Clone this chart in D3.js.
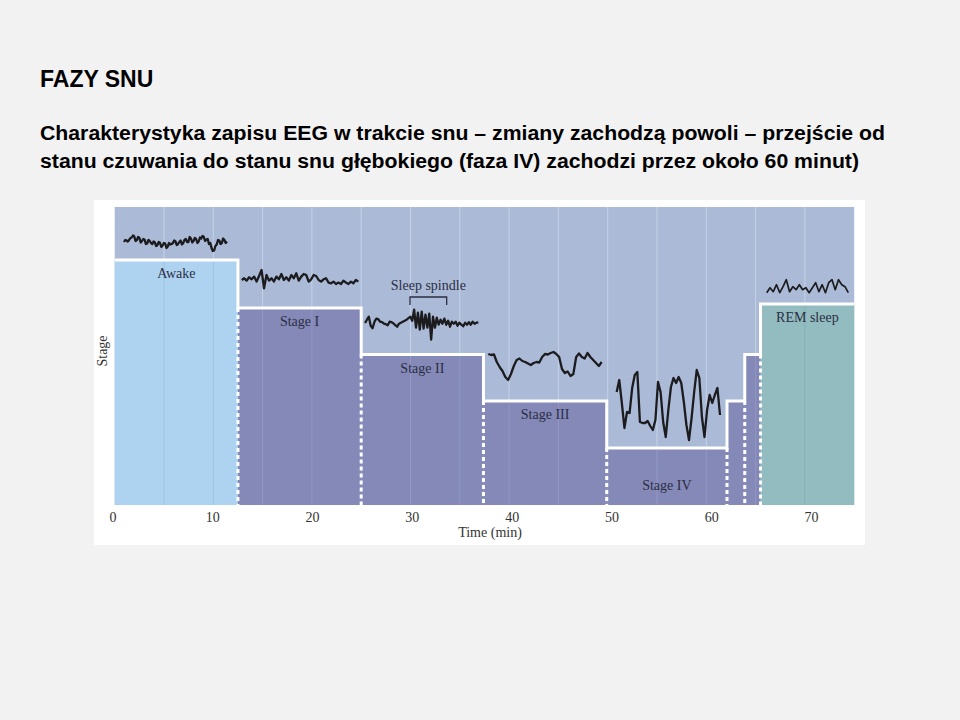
<!DOCTYPE html>
<meta charset="utf-8">
<style>
  body { margin: 0; background: #f2f2f2; }
  svg { display: block; }
</style>
<body>
  <div id="chart"></div>
  <script src="https://d3js.org/d3.v7.min.js"></script>
  <script>
    // hypnogram: minute at which each stage begins
    var stageStart = [0, 12.5, 25, 37.4, 49.9, 62.1, 63.9, 65.5];
    var stageName = ["Awake", "Stage I", "Stage II", "Stage III", "Stage IV", "Stage III", "Stage II", "REM sleep"];
    var endTime = 75;
    // step height of each stage (arbitrary depth units)
    var stageLevel = {
      "Awake": 245,
      "Stage I": 197,
      "Stage II": 150.5,
      "Stage III": 104,
      "Stage IV": 57,
      "REM sleep": 201
    };
    var xTicks = [0, 10, 20, 30, 40, 50, 60, 70];
    var gridTicks = [5, 10, 15, 20, 25, 30, 35, 40, 45, 50, 55, 60, 65, 70];

    // EEG samples drawn above each stage (deflection, depth units)
    var awakeEEG = [0, 2, 1.5, 0.5, 2, 4, 4.5, 6.5, 5.5, 1, 2, 5, 4, -0.5, 1, 3, 2.5, -2, -1.5, 2, 1, -1, -2, 0.5, -0.5, -4, -3, 0, -1, -5, -3.5, -1, -1.5, -6, -4.5, -1, -2.5, -2, -1, 1.5, 0.5, -3, -2, 0, 1.5, -2.5, -1, 2, 3, 0, 0, 5, 3.5, -0.5, 1, 4, 3, -1, 0.5, 4.5, 3.5, 6, 5, 1, 2.5, 3, -2, -1, -6, -9, -8.5, -4, -2.5, 2, 1.5, -2, -1, 3.5, 2, -1, 0.5];
    var stage1EEG = [-0.7, 1, -1.3, 2, 0, 2.7, -2.3, 3.3, 9.3, -9, 4.3, -1.3, 1, -2.3, 2.7, 0, 5.3, -0.7, 2, -1.3, 4.3, 1, 6, -1.3, 2.7, 5.3, 4.3, -2.3, 0, 4.3, 3.3, -0.7, -2.3, 0, 1, -3.3, -4, -2.3, -4.7, -3.3, -4.7, -1.3, -3.3, -4.7, -2.3, -4, -0.7, -2.3];
    var stage2EEG = [1.7, 5, 8, -1, -3.5, 3, 6, 5.5, 3, 2.5, 1, 0.5, -0.5, 3, 2.5, 1.5, -0.5, -2, 1, 2, 3, 4, 5, 6.5, 8, 4, 15, -3, 12, -5, 13, -4, 10, -3, 11, -15, 8, -3, 7, 0, 5, 1, 6, 0, 4, -2, 3, 1, 3, -1, 2, 0, -1.5, 2, 0, 2.5, 0, 3, 1, 2, 2.3];
    var stage3EEG = [6, 5, 5.5, -2, -7, -11, -17, -20, -14, -6, 0, 1.5, -1, -2, -3.5, -5, -3, -2, -2.5, 3, 6, 5.5, 7, 8, 6, 3, -9, -13, -11.5, -16, -14, 3, 6.5, 3, 1.5, 7, 3, 0, -3, -6, -2];
    var stage4EEG = [13, 25, 2, -23, -7, -8, 17, 30, 33, -17, -18, -18, -16, -21, -25, -15, 23, 13, -17, -32, -5, 18, 27, 22, 28, 22, 3, -20, -35, -13, 13, 35, 27, -12, -32, -5, 10, 2, 10, 17, -10];
    var remEEG = [-3, 2, -2, 5, -3, 3, 10, -2, 3, 0, 5, 0, 2, -3, 2, 7, -2, 5, -3, 7, 10, 0, 10, 5, 3, -3];

    var eegData = [awakeEEG, stage1EEG, stage2EEG, stage3EEG, stage4EEG, remEEG];
    var eegStart = [0.94, 12.88, 25.39, 37.89, 50.91, 66.13];
    var eegEnd = [11.39, 24.71, 36.88, 49.39, 61.39, 74.4];
    var eegBase = [263, 225.7, 180.3, 145, 100, 215.3];

    // sleep spindle marker (minutes)
    var spindle = [29.95, 33.67];

    var fills = {
      "Awake": "#aed3f0",
      "REM sleep": "#93bcc0"
    };
    var gridFills = {
      "Awake": "#9ec4e4",
      "REM sleep": "#86afb4"
    };
    var serif = "'Liberation Serif', 'Times New Roman', serif";

    var svg = d3.select("#chart")
      .append("svg")
      .attr("width", 960)
      .attr("height", 720);

    // slide text
    svg.append("text")
      .attr("x", 40)
      .attr("y", 86.5)
      .style("font-family", "'Liberation Sans', Arial, sans-serif")
      .style("font-weight", "bold")
      .style("font-size", "23px")
      .text("FAZY SNU");

    var subtitle = ["Charakterystyka zapisu EEG w trakcie snu \u2013 zmiany zachodzą powoli \u2013 przejście od",
      "stanu czuwania do stanu snu głębokiego (faza IV) zachodzi przez około 60 minut)"];
    var subWidth = [845, 819];
    svg.selectAll(".sub")
      .data(subtitle)
      .enter().append("text")
      .attr("class", "sub")
      .attr("x", 40)
      .attr("y", function(d, i) { return 140 + i * 27.5; })
      .attr("textLength", function(d, i) { return subWidth[i]; })
      .attr("lengthAdjust", "spacingAndGlyphs")
      .style("font-family", "'Liberation Sans', Arial, sans-serif")
      .style("font-weight", "bold")
      .style("font-size", "19.5px")
      .text(function(d) { return d; });

    // white figure panel
    svg.append("rect")
      .attr("x", 94)
      .attr("y", 200)
      .attr("width", 771)
      .attr("height", 345)
      .style("fill", "#ffffff");

    var x = d3.scaleLinear()
      .domain([0, endTime])
      .range([114.7, 854.2]);

    // tick labels of the figure sit on a slightly wider spacing
    var xLabel = d3.scaleLinear()
      .domain([0, 70])
      .range([112.5, 811]);

    var y = d3.scaleLinear()
      .domain([0, 298])
      .range([505, 207]);

    var stages = stageStart.map(function(s, i) {
      return {
        name: stageName[i],
        start: s,
        end: i < stageStart.length - 1 ? stageStart[i + 1] : endTime,
        level: stageLevel[stageName[i]]
      };
    });

    // plot background
    svg.append("rect")
      .attr("x", x(0))
      .attr("y", y(298))
      .attr("width", x(endTime) - x(0))
      .attr("height", y(0) - y(298))
      .style("fill", "#abbbd7");

    svg.selectAll(".bggrid")
      .data(gridTicks)
      .enter().append("line")
      .attr("class", "bggrid")
      .attr("x1", function(d) { return x(d); })
      .attr("x2", function(d) { return x(d); })
      .attr("y1", y(298))
      .attr("y2", y(0))
      .style("stroke", "#c6d1e6")
      .style("stroke-width", 1);

    // stage bars
    svg.selectAll(".bar")
      .data(stages)
      .enter().append("rect")
      .attr("class", "bar")
      .attr("x", function(d) { return x(d.start); })
      .attr("y", function(d) { return y(d.level); })
      .attr("width", function(d) { return x(d.end) - x(d.start); })
      .attr("height", function(d) { return y(0) - y(d.level); })
      .style("fill", function(d) { return fills[d.name] || "#8489b8"; });

    stages.forEach(function(s) {
      svg.selectAll(null)
        .data(gridTicks.filter(function(t) { return t > s.start && t < s.end; }))
        .enter().append("line")
        .attr("x1", function(d) { return x(d); })
        .attr("x2", function(d) { return x(d); })
        .attr("y1", y(s.level) + 1.5)
        .attr("y2", y(0))
        .style("stroke", gridFills[s.name] || "#9298c4")
        .style("stroke-width", 1);
    });

    // white step outline
    var stepPts = stages.map(function(d) { return [d.start, d.level]; });
    stepPts.push([endTime, stages[stages.length - 1].level]);
    svg.append("path")
      .attr("d", d3.line()
        .x(function(d) { return x(d[0]); })
        .y(function(d) { return y(d[1]); })
        .curve(d3.curveStepAfter)(stepPts))
      .style("fill", "none")
      .style("stroke", "#ffffff")
      .style("stroke-width", 3);

    // dashed separators below each step
    svg.selectAll(".sep")
      .data(stages.slice(1))
      .enter().append("line")
      .attr("class", "sep")
      .attr("x1", function(d) { return x(d.start); })
      .attr("x2", function(d) { return x(d.start); })
      .attr("y1", function(d, i) { return y(Math.min(d.level, stages[i].level)); })
      .attr("y2", y(0))
      .style("stroke", "#ffffff")
      .style("stroke-width", 3)
      .style("stroke-dasharray", "4,3");

    // EEG traces
    eegData.forEach(function(vals, k) {
      var step = (eegEnd[k] - eegStart[k]) / (vals.length - 1);
      svg.append("path")
        .attr("d", d3.line()
          .x(function(d, i) { return x(eegStart[k] + i * step); })
          .y(function(d) { return y(eegBase[k] + d); })(vals))
        .style("fill", "none")
        .style("stroke", "#1c1c1f")
        .style("stroke-width", k === 5 ? 1.7 : 2.3)
        .style("stroke-linejoin", "round");
    });

    // stage labels
    svg.selectAll(".slabel")
      .data(stages.filter(function(d) { return d.end - d.start > 5; }))
      .enter().append("text")
      .attr("class", "slabel")
      .attr("x", function(d) { return (x(d.start) + x(d.end)) / 2; })
      .attr("y", function(d) {
        return d.name === "Stage IV" ? y(0) - 15 : y(d.level) + 18;
      })
      .attr("text-anchor", "middle")
      .style("font-family", serif)
      .style("font-size", "14px")
      .style("fill", "#2c2e44")
      .text(function(d) { return d.name; });

    // sleep spindle bracket
    svg.append("path")
      .attr("d", d3.line()
        .x(function(d) { return x(d[0]); })
        .y(function(d) { return y(d[1]); })([
          [spindle[0], 200], [spindle[0], 208], [spindle[1], 208], [spindle[1], 200]
        ]))
      .style("fill", "none")
      .style("stroke", "#2c2e44")
      .style("stroke-width", 1.3);

    svg.append("text")
      .attr("x", (x(spindle[0]) + x(spindle[1])) / 2)
      .attr("y", 290)
      .attr("text-anchor", "middle")
      .style("font-family", serif)
      .style("font-size", "14px")
      .style("fill", "#2c2e44")
      .text("Sleep spindle");

    // x axis
    var axis = svg.append("g")
      .attr("transform", "translate(0," + y(0) + ")")
      .call(d3.axisBottom(xLabel)
        .tickValues(xTicks)
        .tickSize(0)
        .tickPadding(7));
    axis.select(".domain").remove();
    axis.selectAll("text")
      .style("font-family", serif)
      .style("font-size", "14px")
      .style("fill", "#333");

    svg.append("text")
      .attr("x", 490)
      .attr("y", 537)
      .attr("text-anchor", "middle")
      .style("font-family", serif)
      .style("font-size", "14px")
      .style("fill", "#333")
      .text("Time (min)");

    svg.append("text")
      .attr("transform", "translate(107,351) rotate(-90)")
      .attr("text-anchor", "middle")
      .style("font-family", serif)
      .style("font-size", "14px")
      .style("fill", "#333")
      .text("Stage");
  </script>
